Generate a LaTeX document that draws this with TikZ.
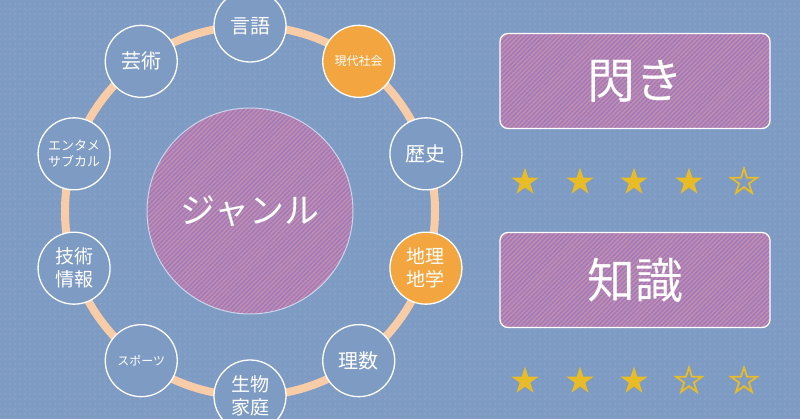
\documentclass[tikz,border=0pt]{standalone}
\usepackage{fontspec}
\setmainfont{Noto Sans CJK JP}
\usetikzlibrary{patterns.meta,shapes.geometric}
\definecolor{bg}{HTML}{7E9BC4}
\definecolor{dotc}{HTML}{9DB3D4}
\definecolor{circ}{HTML}{7E9BC3}
\definecolor{orng}{HTML}{F3A540}
\definecolor{ringc}{HTML}{F8CCA6}
\definecolor{purp}{HTML}{9A7BC0}
\definecolor{pinkc}{HTML}{C88CAA}
\definecolor{gold}{HTML}{E8BC27}
\definecolor{edgec}{HTML}{C9D5EA}
\tikzset{
  hatch/.style={preaction={fill=purp},pattern={Lines[angle=45,distance=3.2pt,line width=1.5pt]},pattern color=pinkc},
  genre/.style={circle,minimum size=72pt,inner sep=0pt,draw=white,line width=1.3pt,fill=circ,text=white,align=center},
  hot/.style={genre,fill=orng},
  bigc/.style={circle,minimum size=206pt,inner sep=0pt,hatch,draw=edgec,line width=1pt,text=white},
  rate/.style={rectangle,rounded corners=8pt,minimum width=270pt,minimum height=95pt,hatch,draw=white,line width=1.3pt,text=white},
  fullstar/.style={star,star points=5,star point ratio=2.618,minimum size=29pt,inner sep=0pt,fill=gold},
  openstar/.style={star,star points=5,star point ratio=2.618,minimum size=27pt,inner sep=0pt,draw=gold,line width=1.8pt},
}
\begin{document}
\begin{tikzpicture}[x=1pt,y=-1pt]
\fill[bg] (0,0) rectangle (800,419);
\fill[pattern={Dots[distance=5pt,radius=0.6pt]},pattern color=dotc] (0,0) rectangle (800,419);
\useasboundingbox (0,0) rectangle (800,419);
\coordinate (c) at (250,211);
\draw[ringc,line width=8pt] (c) circle (185);
\node[bigc,font=\fontsize{35}{42}\selectfont] (g) at (c) {ジャンル};
\node[genre,font=\fontsize{20}{24}\selectfont] (n1) at ([shift={(c)}]-90:185) {言語};
\node[hot,font=\fontsize{12}{15}\selectfont] (n2) at ([shift={(c)}]-54:185) {現代社会};
\node[genre,font=\fontsize{20}{24}\selectfont] (n3) at ([shift={(c)}]-18:185) {歴史};
\node[hot,font=\fontsize{19}{23}\selectfont] (n4) at ([shift={(c)}]18:185) {地理\\地学};
\node[genre,font=\fontsize{20}{24}\selectfont] (n5) at ([shift={(c)}]54:185) {理数};
\node[genre,font=\fontsize{19}{23}\selectfont] (n6) at ([shift={(c)}]90:185) {生物\\家庭};
\node[genre,font=\fontsize{12}{15}\selectfont] (n7) at ([shift={(c)}]126:185) {スポーツ};
\node[genre,font=\fontsize{19}{23}\selectfont] (n8) at ([shift={(c)}]162:185) {技術\\情報};
\node[genre,font=\fontsize{13}{16}\selectfont] (n9) at ([shift={(c)}]198:185) {エンタメ\\サブカル};
\node[genre,font=\fontsize{20}{24}\selectfont] (n10) at ([shift={(c)}]234:185) {芸術};
\node[rate,font=\fontsize{48}{56}\selectfont] (b1) at (635,81) {閃き};
\node[rate,font=\fontsize{48}{56}\selectfont] (b2) at (635,280) {知識};
\node[fullstar] (s11) at (525,182) {};
\node[fullstar] (s12) at (580,182) {};
\node[fullstar] (s13) at (634,182) {};
\node[fullstar] (s14) at (689,182) {};
\node[openstar] (s15) at (744,182) {};
\node[fullstar] (s21) at (525,381) {};
\node[fullstar] (s22) at (580,381) {};
\node[fullstar] (s23) at (634,381) {};
\node[openstar] (s24) at (689,381) {};
\node[openstar] (s25) at (744,381) {};
\end{tikzpicture}
\end{document}
